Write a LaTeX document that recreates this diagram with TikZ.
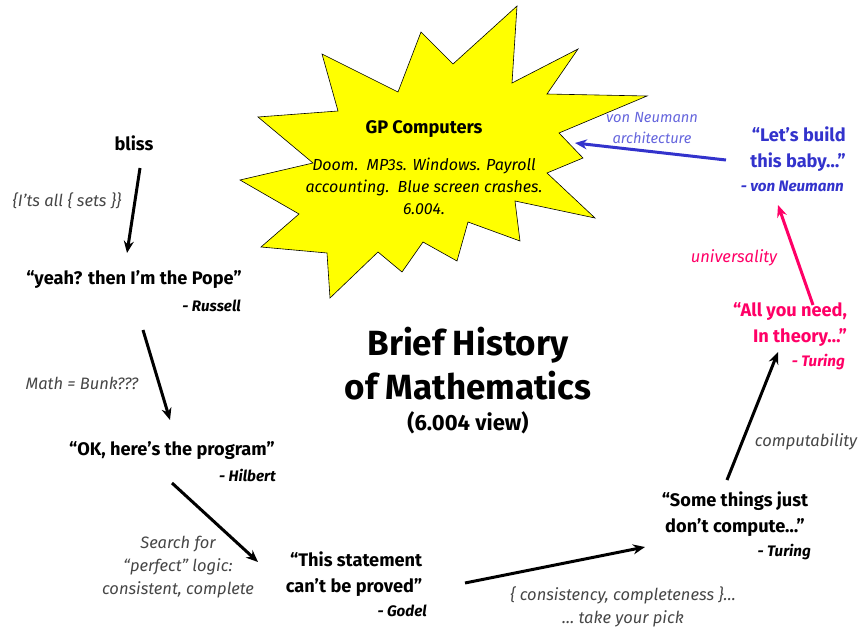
\documentclass[tikz,border=0pt]{standalone}
\usepackage{fontspec}
\setmainfont{Fira Sans}
\usetikzlibrary{arrows.meta}
\definecolor{notegray}{RGB}{70,70,70}
\definecolor{vnblue}{RGB}{51,51,204}
\definecolor{archblue}{RGB}{102,102,221}
\definecolor{univpink}{RGB}{255,0,102}
\definecolor{staryellow}{RGB}{255,255,0}
\tikzset{
  quote/.style={font=\bfseries\fontsize{18.2}{26}\selectfont, inner sep=1pt},
  who/.style={font=\bfseries\itshape\fontsize{15.2}{16}\selectfont, anchor=east, inner sep=1pt},
  note/.style={font=\itshape\fontsize{16.5}{23}\selectfont, text=notegray, align=center, inner sep=1pt},
  link/.style={line width=3pt, -{Stealth[length=12pt,width=10pt]}}
}
\begin{document}
\begin{tikzpicture}[x=1pt,y=-1pt]
    \useasboundingbox (0,0) rectangle (861,629);
    % Star
    \draw[fill=staryellow, line width=0.6pt] (258,117) -- (338,111) -- (322,54) -- (398,92) -- (421,32)
        -- (453,64) -- (517,6) -- (512,83) -- (578,49) -- (547,94) -- (647,96) -- (559,133)
        -- (583,158) -- (547,173) -- (595,218) -- (515,201) -- (520,241) -- (468,222)
        -- (457,261) -- (423,242) -- (402,272) -- (378,252) -- (330,298) -- (327,253)
        -- (261,247) -- (299,214) -- (240,180) -- (313,163) -- cycle;
    \node[quote] (gp) at (424,129) {GP Computers};
    \node[font=\itshape\fontsize{16}{22}\selectfont, align=center, inner sep=1pt] (gpnote) at (424,186)
        {Doom.\ \ MP3s. Windows. Payroll\\ accounting.\ \ Blue screen crashes.\\ 6.004.};
    % Title
    \node[font=\bfseries\fontsize{35}{44}\selectfont, align=center, inner sep=1pt] (title) at (468,364)
        {Brief History\\ of Mathematics};
    \node[font=\bfseries\fontsize{22}{24}\selectfont, inner sep=1pt] (view) at (468,423) {(6.004 view)};
    % Left side
    \node[quote] (bliss) at (134,143) {bliss};
    \node[quote] (pope) at (134,280) {“yeah? then I’m the Pope”};
    \node[who] (russell) at (242,306) {- Russell};
    \node[quote] (program) at (172,451) {“OK, here’s the program”};
    \node[who] (hilbert) at (277,475) {- Hilbert};
    \node[quote, align=right] (proved) at (354,574) {“This statement\\ can’t be proved”};
    \node[who] (godel) at (428,611) {- Godel};
    \node[note] (sets) at (67,201) {\{I’ts all \{ sets \}\}};
    \node[note] (bunk) at (82,383) {Math = Bunk???};
    \node[note] (search) at (178,567) {Search for\\ “perfect” logic:\\ consistent, complete};
    % Right side
    \node[quote, align=center] (compute) at (735,514) {“Some things just\\ don’t compute…”};
    \node[who] (turing) at (812,552) {- Turing};
    \node[quote, align=right, text=univpink] (theory) at (790,325) {“All you need,\\ In theory…”};
    \node[who, text=univpink] (turing2) at (846,362) {- Turing};
    \node[quote, align=right, text=vnblue] (baby) at (798,149) {“Let’s build\\ this baby…”};
    \node[who, text=vnblue] (neumann) at (845,186) {- von Neumann};
    \node[note] (pick) at (623,607) {\{ consistency, completeness \}…\\ … take your pick};
    \node[note] (comput) at (806,442) {computability};
    \node[note, text=univpink] (univ) at (734,258) {universality};
    \node[note, text=archblue, font=\itshape\fontsize{14.7}{21}\selectfont] (arch) at (652,128) {von Neumann\\ architecture};
    % Arrows
    \draw[link] ([shift={(6,25)}]bliss.center) -- ([shift={(-7,-27)}]pope.center);
    \draw[link] ([shift={(9,50)}]pope.center) -- ([shift={(-2,-31)}]program.center);
    \draw[link] ([shift={(0,32)}]program.center) -- ([shift={(-96,-12)}]proved.center);
    \draw[link] ([shift={(111,9)}]proved.center) -- ([shift={(-90,33)}]compute.center);
    \draw[link] ([shift={(-8,-34)}]compute.center) -- ([shift={(-12,27)}]theory.center);
    \draw[link, univpink] ([shift={(23,-20)}]theory.center) -- ([shift={(-20,56)}]baby.center);
    \draw[link, vnblue] ([shift={(-72,11)}]baby.center) -- ([shift={(151,14)}]gp.center);
\end{tikzpicture}
\end{document}
